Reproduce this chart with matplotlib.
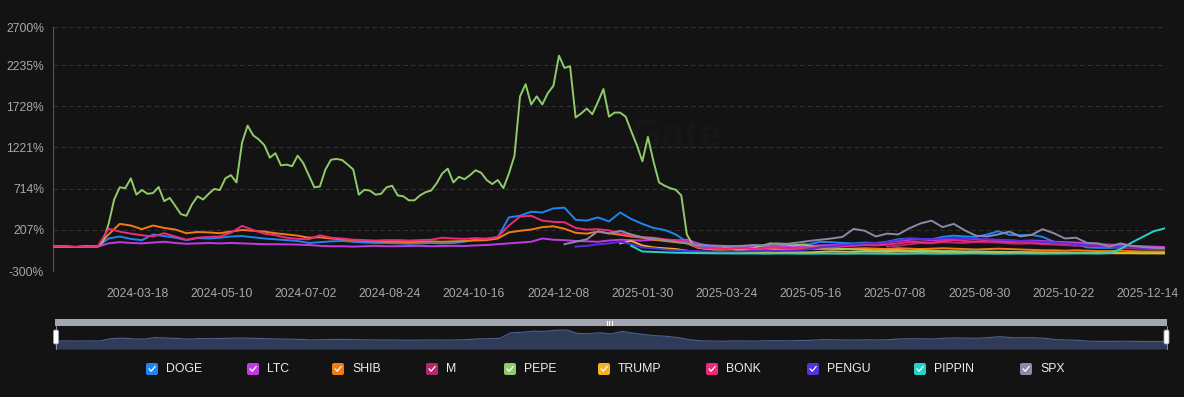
import numpy as np
import pandas as pd
import matplotlib
matplotlib.use("Agg")
import matplotlib.pyplot as plt
from matplotlib.patches import FancyBboxPatch, Rectangle

plt.rcParams['font.family'] = ['Liberation Sans', 'DejaVu Sans']

# weekly samples, 2024-01-25 .. 2025-12-25, % change since first value
dates = pd.date_range('2024-01-25', periods=101, freq='7D')
# PEPE moves a lot, so it is read twice a week
pepe_dates = pd.date_range('2024-01-25', periods=201, freq='84h')

doge = [0, 2, -3, 2, 0, 100, 125, 95, 80, 150,
        130, 110, 80, 105, 100, 110, 125, 130, 115, 100,
        90, 80, 70, 45, 55, 65, 70, 60, 50, 45,
        45, 40, 35, 40, 45, 40, 45, 60, 90, 100,
        115, 360, 380, 430, 420, 470, 480, 330, 320, 360,
        310, 420, 340, 280, 230, 205, 150, 60, 10, 0,
        -10, 5, 0, -5, 10, 15, 5, 20, 30, 60,
        55, 45, 40, 50, 45, 60, 90, 100, 95, 90,
        120, 135, 125, 120, 150, 190, 145, 140, 145, 120,
        60, 45, 30, -10, -15, -15, -10, -15, -20, -20, -20]

ltc = [0, -2, -4, 0, -1, 40, 55, 45, 40, 50,
       60, 45, 35, 40, 45, 40, 45, 40, 35, 30,
       30, 28, 25, 20, 10, 5, 5, 0, 5, 10,
       5, 5, 8, 10, 5, 8, 10, 8, 15, 20,
       30, 40, 50, 60, 100, 85, 80, 70, 65, 60,
       75, 85, 80, 75, 85, 80, 75, 85, 40, 10,
       -10, -5, 0, 5, 0, -5, 0, 5, 10, 15,
       20, 25, 30, 35, 40, 50, 70, 85, 90, 80,
       85, 95, 100, 90, 85, 80, 75, 70, 75, 70,
       60, 55, 50, 40, 30, 25, 20, 10, 5, 0, -5]

shib = [0, 3, -5, 2, 0, 150, 280, 260, 215, 260,
        230, 210, 165, 180, 175, 165, 185, 205, 195, 185,
        165, 150, 135, 110, 115, 100, 90, 80, 70, 65,
        60, 60, 55, 60, 65, 60, 65, 70, 75, 80,
        100, 175, 195, 210, 240, 250, 220, 170, 160, 185,
        165, 145, 125, 110, 85, 70, 55, 40, -15, -30,
        -40, -35, -40, -35, -25, -30, -35, -30, -25, -30,
        -35, -30, -25, -20, -25, -30, -20, -25, -30, -25,
        -20, -25, -30, -35, -30, -25, -30, -35, -40, -45,
        -45, -50, -45, -50, -55, -55, -50, -55, -60, -60, -60]

m_tok = [None] * 75 + [0, 10, 30, 45, 40, 55, 50, 45, 60, 55,
                       50, 40, 35, 40, 30, 25, 20, 10, 15, 5,
                       0, -10, -20, -25, -30, -30]

pepe = [0, 0, 2, -3, -6, -2, 3, 0, 0, 60,
        280, 580, 730, 720, 840, 640, 697, 650, 660, 734,
        560, 600, 500, 400, 380, 520, 620, 580, 650, 710,
        697, 840, 880, 790, 1280, 1490, 1370, 1320, 1250, 1095,
        1150, 1000, 1010, 990, 1120, 1030, 880, 730, 740, 950,
        1070, 1080, 1066, 1010, 950, 640, 700, 690, 640, 650,
        730, 750, 630, 620, 570, 570, 630, 670, 690, 780,
        900, 960, 790, 860, 830, 880, 940, 910, 820, 770,
        820, 720, 900, 1120, 1850, 2000, 1750, 1850, 1750, 1890,
        1980, 2350, 2200, 2220, 1590, 1640, 1700, 1630, 1780, 1940,
        1600, 1650, 1650, 1600, 1420, 1250, 1050, 1350, 1050, 790,
        750, 720, 700, 630, 150, 30, -10, -20, -25, -35,
        -30, -20, -25, -40, -35, -30, -20, 5, 20, 40,
        35, 30, 25, 15, 20, 25, 10, 0, -10, -15,
        -20, -25, -30, -28, -35, -38, -40, -42, -45, -44,
        -45, -42, -40, -45, -50, -48, -45, -47, -50, -52,
        -55, -54, -55, -58, -60, -59, -60, -61, -62, -64,
        -65, -64, -65, -67, -68, -69, -70, -71, -72, -72,
        -72, -74, -75, -74, -74, -75, -76, -77, -78, -78,
        -78, -77, -77, -78, -79, -80, -80, -80, -80, -81,
        -80]

trump = [None] * 51 + [40, 70, 15, -10, -20, -30, -50, -65, -70, -72,
                       -70, -68, -72, -70, -68, -70, -72, -70, -65, -60,
                       -62, -65, -60, -62, -65, -60, -62, -65, -63, -66,
                       -65, -68, -70, -68, -70, -72, -74, -75, -76, -75,
                       -78, -79, -80, -80, -81, -82, -82, -83, -83, -84]

bonk = [0, 2, -3, 0, -2, 220, 185, 160, 140, 125,
        165, 125, 85, 110, 120, 125, 170, 255, 205, 160,
        140, 110, 95, 90, 140, 110, 100, 85, 80, 75,
        80, 80, 75, 80, 85, 110, 100, 95, 105, 95,
        120, 260, 370, 380, 320, 305, 300, 230, 210, 215,
        200, 160, 140, 115, 110, 90, 80, 60, -10, -20,
        -30, -25, -20, -30, -15, -10, -20, -15, -10, -5,
        -10, 0, 10, 20, 15, 25, 40, 60, 55, 50,
        65, 80, 70, 60, 75, 65, 55, 60, 50, 40,
        45, 30, 35, 25, 20, 15, 10, 0, -10, -15, -15]

pengu = [None] * 47 + [0, 10, 28, 40, 60, 30, -10, -20, -35, -45,
                       -53, -55, -60, -65, -62, -60, -55, -50, -55, -50,
                       -45, -30, -10, 5, 20, 30, 40, 45, 55, 80,
                       100, 95, 90, 100, 105, 95, 100, 90, 85, 80,
                       70, 65, 60, 50, 40, 30, 20, 10, 5, 0,
                       -10, -15, -20, -25]

pippin = [None] * 52 + [10, -60, -65, -70, -75, -78, -80, -82, -83, -84,
                        -85, -84, -86, -85, -84, -86, -87, -85, -86, -87,
                        -86, -85, -86, -87, -88, -86, -85, -86, -87, -86,
                        -85, -84, -86, -87, -86, -85, -86, -87, -86, -85,
                        -84, -83, -85, -80, -30, 50, 120, 190, 226]

spx = [None] * 46 + [30, 60, 90, 190, 160, 195, 150, 115, 100, 82,
                     60, 41, 20, 15, 10, 5, 10, 20, 15, 40,
                     35, 50, 70, 85, 100, 120, 218, 195, 125, 160,
                     150, 225, 285, 320, 240, 280, 200, 135, 125, 150,
                     185, 125, 145, 215, 165, 100, 110, 45, 40, 0,
                     40, 10, -5, -15, -20]

names = ['DOGE', 'LTC', 'SHIB', 'M', 'PEPE', 'TRUMP', 'BONK', 'PENGU', 'PIPPIN', 'SPX']
series = [doge, ltc, shib, m_tok, pepe, trump, bonk, pengu, pippin, spx]
colors = ['#1e86f2', '#c23ae6', '#f07d14', '#b5286c', '#8fcb6b',
          '#f2b31e', '#f0287c', '#5630dc', '#22d3cc', '#8a8aa8']

y_ticks = [-300, 207, 714, 1221, 1728, 2235, 2700]
x_tick_labels = ['2024-03-18', '2024-05-10', '2024-07-02', '2024-08-24', '2024-10-16',
                 '2024-12-08', '2025-01-30', '2025-03-24', '2025-05-16', '2025-07-08',
                 '2025-08-30', '2025-10-22', '2025-12-14']

W, H = 1184, 397
bg = '#131313'
fig = plt.figure(figsize=(W / 100, H / 100), dpi=100, facecolor=bg)

# main chart
ax = fig.add_axes([53 / W, 1 - 271 / H, 1112 / W, 243.7 / H])
ax.set_facecolor(bg)
ax.text(0.56, 0.55, 'Gate', transform=ax.transAxes, color='#161616', fontsize=30,
        fontweight='bold', ha='center', va='center', zorder=0)
for name, vals, col in zip(names, series, colors):
    xs = pepe_dates if name == 'PEPE' else dates
    ax.plot(xs, np.array(vals, dtype=float), color=col, lw=1.4, zorder=3)

ax.set_xlim(dates[0], dates[-1])
ax.set_ylim(y_ticks[0], y_ticks[-1])
ax.set_yticks(y_ticks)
ax.set_yticklabels([f'{v}%' for v in y_ticks])
ax.set_xticks(pd.to_datetime(x_tick_labels))
ax.set_xticklabels(x_tick_labels)
ax.tick_params(axis='both', length=0, colors='#a8a8a8', labelsize=8.7)
ax.tick_params(axis='x', pad=12)
ax.tick_params(axis='y', pad=6.5)
ax.yaxis.grid(True, color='#333333', linestyle=(0, (4, 3)), lw=0.8)
ax.xaxis.grid(False)
for s in ['top', 'right', 'bottom']:
    ax.spines[s].set_visible(False)
ax.spines['left'].set_color('#555555')
ax.spines['left'].set_linewidth(0.8)

# data zoom overview
axz = fig.add_axes([55 / W, 1 - 349 / H, 1112 / W, 23 / H])
axz.set_facecolor('#1a2131')
doge_arr = np.array(doge, dtype=float)
axz.fill_between(dates, doge_arr, -350, color='#2f3b58', lw=0)
axz.plot(dates, doge_arr, color='#4d6190', lw=0.8)
axz.set_xlim(dates[0], dates[-1])
axz.set_ylim(-350, 655)
axz.axis('off')

# overlay in pixel units for slider chrome and legend
ov = fig.add_axes([0, 0, 1, 1])
ov.set_xlim(0, W)
ov.set_ylim(H, 0)
ov.axis('off')
ov.patch.set_alpha(0)

ov.add_patch(Rectangle((55, 319), 1112, 7, color='#a2a6b0', lw=0))
for dx in (-2.5, 0, 2.5):
    ov.plot([609 + dx, 609 + dx], [320.5, 324.5], color='white', lw=0.8)
for hx in (56, 1166.5):
    ov.add_patch(FancyBboxPatch((hx - 2.5, 330), 5, 14, boxstyle='round,pad=0,rounding_size=1.5',
                                facecolor='white', edgecolor='#9aa0aa', lw=0.6, zorder=5))
    ov.plot([hx, hx], [326, 349], color='#9aa0aa', lw=0.6, zorder=4)

legend_x = [152, 253, 338, 432, 510, 604, 712, 813, 920, 1026]
ly = 369
for name, col, lx in zip(names, colors, legend_x):
    ov.add_patch(FancyBboxPatch((lx - 6, ly - 6), 12, 12, boxstyle='round,pad=0,rounding_size=2',
                                facecolor=col, edgecolor='none'))
    ov.plot([lx - 3, lx - 0.8, lx + 3.2], [ly - 0.2, ly + 2.2, ly - 2.6], color='white', lw=0.9,
            solid_capstyle='round')
    ov.text(lx + 14, ly + 0.5, name, color='#eeeeee', fontsize=8.8, ha='left', va='center')

fig.savefig('out.png', dpi=100, facecolor=bg)
